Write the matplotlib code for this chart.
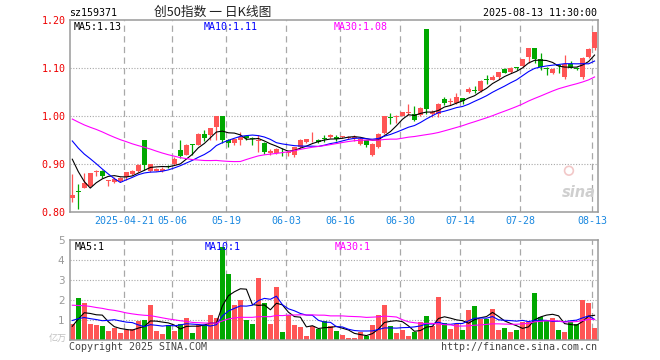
import matplotlib
matplotlib.use('Agg')
import matplotlib.pyplot as plt
import numpy as np

# ---------------- data ----------------
dates = ['04-08', '04-09', '04-10', '04-11', '04-14', '04-15', '04-16', '04-17', '04-18',
         '04-21', '04-22', '04-23', '04-24', '04-25', '04-28', '04-29', '04-30',
         '05-06', '05-07', '05-08', '05-09', '05-12', '05-13', '05-14', '05-15', '05-16',
         '05-19', '05-20', '05-21', '05-22', '05-23', '05-26', '05-27', '05-28', '05-29', '05-30',
         '06-03', '06-04', '06-05', '06-06', '06-09', '06-10', '06-11', '06-12', '06-13',
         '06-16', '06-17', '06-18', '06-19', '06-20', '06-23', '06-24', '06-25', '06-26', '06-27',
         '06-30', '07-01', '07-02', '07-03', '07-04', '07-07', '07-08', '07-09', '07-10', '07-11',
         '07-14', '07-15', '07-16', '07-17', '07-18', '07-21', '07-22', '07-23', '07-24', '07-25',
         '07-28', '07-29', '07-30', '07-31', '08-01', '08-04', '08-05', '08-06', '08-07', '08-08',
         '08-11', '08-12', '08-13']

opens = [0.830, 0.843, 0.851, 0.854, 0.884, 0.885, 0.865, 0.863, 0.864, 0.872,
         0.879, 0.886, 0.950, 0.885, 0.886, 0.885, 0.896, 0.899, 0.929, 0.919,
         0.941, 0.940, 0.9625, 0.960, 0.978, 1.000, 0.950, 0.944, 0.950, 0.959,
         0.955, 0.947, 0.944, 0.922, 0.922, 0.926, 0.922, 0.919, 0.936, 0.946,
         0.949, 0.950, 0.954, 0.957, 0.956, 0.956, 0.955, 0.955, 0.941, 0.949,
         0.919, 0.936, 0.964, 0.998, 0.997, 1.000, 1.006, 1.004, 1.002, 1.181,
         1.004, 1.004, 1.035, 1.030, 1.028, 1.037, 1.049, 1.054, 1.053, 1.078,
         1.076, 1.082, 1.098, 1.092, 1.103, 1.105, 1.122, 1.142, 1.118, 1.100,
         1.089, 1.105, 1.081, 1.108, 1.101, 1.081, 1.122, 1.141]
highs = [0.879, 0.858, 0.882, 0.882, 0.887, 0.887, 0.867, 0.872, 0.872, 0.884,
         0.887, 0.901, 0.950, 0.900, 0.891, 0.894, 0.898, 0.914, 0.950, 0.941,
         0.941, 0.964, 0.971, 0.976, 1.000, 1.000, 0.953, 0.953, 0.967, 0.960,
         0.957, 0.960, 0.946, 0.931, 0.933, 0.933, 0.930, 0.936, 0.952, 0.953,
         0.967, 0.953, 0.960, 0.962, 0.960, 0.959, 0.959, 0.960, 0.956, 0.950,
         0.943, 0.964, 1.000, 1.006, 1.002, 1.009, 1.026, 1.021, 1.019, 1.181,
         1.0125, 1.028, 1.039, 1.037, 1.047, 1.038, 1.061, 1.062, 1.074, 1.085,
         1.085, 1.092, 1.101, 1.103, 1.103, 1.119, 1.142, 1.142, 1.131, 1.103,
         1.099, 1.106, 1.128, 1.115, 1.103, 1.122, 1.141, 1.176]
lows = [0.8215, 0.806, 0.849, 0.853, 0.874, 0.870, 0.854, 0.860, 0.862, 0.867,
        0.877, 0.884, 0.888, 0.884, 0.885, 0.884, 0.892, 0.898, 0.912, 0.918,
        0.919, 0.939, 0.947, 0.950, 0.950, 0.943, 0.936, 0.940, 0.940, 0.950,
        0.940, 0.926, 0.921, 0.919, 0.920, 0.917, 0.917, 0.915, 0.934, 0.944,
        0.946, 0.944, 0.946, 0.955, 0.947, 0.954, 0.953, 0.947, 0.940, 0.935,
        0.917, 0.934, 0.962, 0.983, 0.985, 0.999, 1.002, 0.990, 1.000, 1.005,
        0.997, 0.997, 1.023, 1.023, 1.026, 1.026, 1.047, 1.047, 1.051, 1.067,
        1.074, 1.078, 1.089, 1.089, 1.096, 1.103, 1.111, 1.111, 1.096, 1.085,
        1.087, 1.090, 1.078, 1.099, 1.096, 1.078, 1.120, 1.138]
closes = [0.835, 0.841, 0.861, 0.882, 0.886, 0.875, 0.867, 0.869, 0.870, 0.884,
          0.886, 0.897, 0.897, 0.900, 0.890, 0.890, 0.894, 0.910, 0.917, 0.940,
          0.940, 0.962, 0.955, 0.976, 1.000, 0.950, 0.944, 0.952, 0.957, 0.955,
          0.952, 0.950, 0.926, 0.927, 0.931, 0.924, 0.925, 0.935, 0.950, 0.952,
          0.951, 0.945, 0.952, 0.960, 0.953, 0.958, 0.957, 0.957, 0.953, 0.939,
          0.942, 0.962, 0.999, 0.996, 1.000, 1.009, 1.009, 0.992, 1.017, 1.014,
          1.009, 1.026, 1.028, 1.032, 1.039, 1.032, 1.056, 1.052, 1.073, 1.075,
          1.082, 1.091, 1.090, 1.101, 1.101, 1.118, 1.142, 1.118, 1.103, 1.097,
          1.098, 1.104, 1.108, 1.101, 1.098, 1.120, 1.140, 1.176]
volumes = [0.80, 2.12, 1.87, 0.82, 0.77, 0.72, 0.47, 0.63, 0.37, 0.52,
           0.55, 0.98, 1.02, 1.77, 0.47, 0.32, 0.77, 0.47, 0.80, 1.12,
           0.37, 0.77, 0.77, 1.27, 1.12, 4.65, 3.32, 1.77, 2.02, 1.02,
           0.82, 3.10, 1.87, 0.82, 2.65, 0.42, 1.27, 0.77, 0.67, 0.22,
           0.72, 0.57, 0.98, 0.73, 0.47, 0.27, 0.13, 0.13, 0.43, 0.22,
           0.77, 1.27, 1.77, 0.72, 0.37, 0.52, 0.22, 0.42, 0.92, 1.22,
           0.72, 2.17, 0.85, 0.57, 0.80, 0.52, 1.53, 1.72, 1.08, 1.08,
           1.57, 0.52, 0.62, 0.42, 0.52, 0.90, 0.90, 2.37, 1.15, 0.98,
           1.10, 0.52, 0.42, 0.92, 0.82, 2.02, 1.87, 0.62]

# closes / volumes of the 29 sessions before the window (feed the MA lines at the left edge)
prior_closes = [1.03, 1.04, 1.03, 1.02, 1.03, 1.04, 1.03, 1.02, 1.01, 1.02,
                1.01, 1.00, 1.01, 1.02, 1.01, 1.00, 1.00, 1.01, 1.00, 1.00,
                0.99, 0.985, 0.98, 0.99, 0.985, 0.97, 0.965, 0.95, 0.83]
prior_volumes = [2.5, 2.2, 1.9, 2.4, 2.0, 2.3, 1.8, 2.1, 2.6, 2.0,
                 2.2, 1.9, 2.3, 2.1, 2.0, 2.4, 1.8, 2.2, 2.0, 2.0,
                 1.2, 1.3, 1.4, 1.2, 1.3, 0.3, 0.3, 1.0, 1.1]

tick_dates = ['04-21', '05-06', '05-19', '06-03', '06-16', '06-30', '07-14', '07-28', '08-13']
tick_labels = ['2025-04-21', '05-06', '05-19', '06-03', '06-16', '06-30', '07-14', '07-28', '08-13']
price_ticks = [0.80, 0.90, 1.00, 1.10, 1.20]
price_labels = ['0.80', '0.90', '1.00', '1.10', '1.20']
vol_ticks = [1, 2, 3, 4, 5]
ma_windows = [5, 10, 30]
ma_colors = ['#000000', '#0000ff', '#ff00ff']

# ---------------- styling ----------------
UP = '#ff5555'
DOWN = '#00a800'
GRID = '#a8a8a8'
FRAME = '#9a9a9a'
MONO = 'DejaVu Sans Mono'
FS = 7.2
W, H = 660, 360

fig = plt.figure(figsize=(6.6, 3.6), dpi=100)
fig.patch.set_facecolor('white')

def fx(px):
    return px / W

def fy(py):
    return 1 - py / H

n = len(closes)
x = np.arange(n)
o = np.array(opens); c = np.array(closes); hi = np.array(highs); lo = np.array(lows)
v = np.array(volumes)
up = c >= o
cols = [UP if u else DOWN for u in up]

xlim = (-0.38, n - 1 + 0.57)
tick_pos = [dates.index(d) - 0.35 for d in tick_dates]

def ma(series, prior, w):
    full = np.concatenate([np.array(prior), np.array(series)])
    out = np.convolve(full, np.ones(w) / w, mode='valid')
    return out[-len(series):]

# ---- main price axes ----
ax = fig.add_axes([fx(70), fy(212), fx(528), 192 / H])
ax.set_xlim(*xlim)
ax.set_ylim(0.80, 1.20)
for yv in [0.90, 1.00, 1.10]:
    ax.axhline(yv, color=GRID, lw=0.8, ls=(0, (1, 1.5)), zorder=0)
for tp in tick_pos:
    ax.axvline(tp, color=GRID, lw=0.9, ls=(0, (5, 3.5)), zorder=0)

bw = 0.78
ax.vlines(x, lo, hi, colors=cols, lw=0.9, zorder=2)
body_bottom = np.minimum(o, c)
body_h = np.maximum(np.abs(c - o), 0.0014)
ax.bar(x, body_h, bottom=body_bottom, width=bw, color=cols, edgecolor='none', zorder=3)

for w_, col in zip(ma_windows, ma_colors):
    ax.plot(x, ma(closes, prior_closes, w_), color=col, lw=0.8, zorder=4)

ax.set_yticks(price_ticks)
ax.set_yticklabels(price_labels, fontfamily=MONO, fontsize=FS, color='#ee0000')
ax.set_xticks(tick_pos)
ax.set_xticklabels(tick_labels, fontfamily=MONO, fontsize=FS, color='#1a88e0')
ax.tick_params(length=0, pad=3)
ax.tick_params(axis='x', pad=3)
for s in ax.spines.values():
    s.set_color(FRAME)
    s.set_linewidth(1.1)

# MA legends (price)
ma_vals = [ma(closes, prior_closes, w_)[-1] for w_ in ma_windows]
leg_x = [74, 204, 334]
for lx, w_, col, val in zip(leg_x, ma_windows, ma_colors, ma_vals):
    fig.text(fx(lx), fy(27), f'MA{w_}:{val:.2f}', fontfamily=MONO, fontsize=FS,
             color=col, ha='left', va='center')

# sina watermark
ax.text(0.995, 0.06, 'sina', transform=ax.transAxes, fontsize=10.5, fontweight='bold',
        fontstyle='italic', color='#cfcfcf', ha='right', va='bottom', zorder=1,
        fontfamily='DejaVu Sans')
ax.scatter([0.945], [0.215], transform=ax.transAxes, s=40, facecolors='none',
           edgecolors='#f2c8c8', linewidths=1.2, zorder=1)

# ---- volume axes ----
axv = fig.add_axes([fx(70), fy(340.3), fx(528), 100 / H])
axv.set_xlim(*xlim)
axv.set_ylim(0, 5)
for yv in [1, 2, 3, 4]:
    axv.axhline(yv, color=GRID, lw=0.8, ls=(0, (1, 1.5)), zorder=0)
for tp in tick_pos:
    axv.axvline(tp, color=GRID, lw=0.9, ls=(0, (5, 3.5)), zorder=0)
axv.bar(x, v, width=bw, color=cols, edgecolor='none', zorder=2)
for w_, col in zip(ma_windows, ma_colors):
    axv.plot(x, ma(volumes, prior_volumes, w_), color=col, lw=0.8, zorder=4)
axv.set_yticks(vol_ticks)
axv.set_yticklabels([str(t) for t in vol_ticks], fontsize=7.5, color='#999999',
                    fontfamily='DejaVu Sans')
axv.set_xticks([])
axv.tick_params(length=0, pad=4)
for s in axv.spines.values():
    s.set_color(FRAME)
    s.set_linewidth(1.1)

vma_vals = [ma(volumes, prior_volumes, w_)[-1] for w_ in ma_windows]
for lx, w_, col, val in zip(leg_x, ma_windows, ma_colors, vma_vals):
    fig.text(fx(lx + 1), fy(246.5), f'MA{w_}:{val:.0f}', fontfamily=MONO, fontsize=FS,
             color=col, ha='left', va='center')

fig.text(fx(58), fy(338.5), '亿万', fontsize=6.5, color='#c0c0c0', ha='center', va='center',
         fontfamily=['Noto Sans CJK SC', 'DejaVu Sans'])

# ---- header / footer texts ----
fig.text(fx(69), fy(13), 'sz159371', fontfamily=MONO, fontsize=FS, color='#000000',
         ha='left', va='center')
fig.text(fx(213), fy(12.5), '创50指数 一 日K线图', fontsize=9.2, color='#222222',
         ha='center', va='center', fontfamily=['Noto Sans CJK SC', 'DejaVu Sans'])
fig.text(fx(597), fy(13), '2025-08-13 11:30:00', fontfamily=MONO, fontsize=FS,
         color='#000000', ha='right', va='center')
fig.text(fx(69), fy(346.5), 'Copyright 2025 SINA.COM', fontfamily=MONO, fontsize=FS,
         color='#444444', ha='left', va='center')
fig.text(fx(597), fy(346.5), 'http://finance.sina.com.cn', fontfamily=MONO, fontsize=FS,
         color='#444444', ha='right', va='center')

fig.savefig('out.png', dpi=100, facecolor='white')
